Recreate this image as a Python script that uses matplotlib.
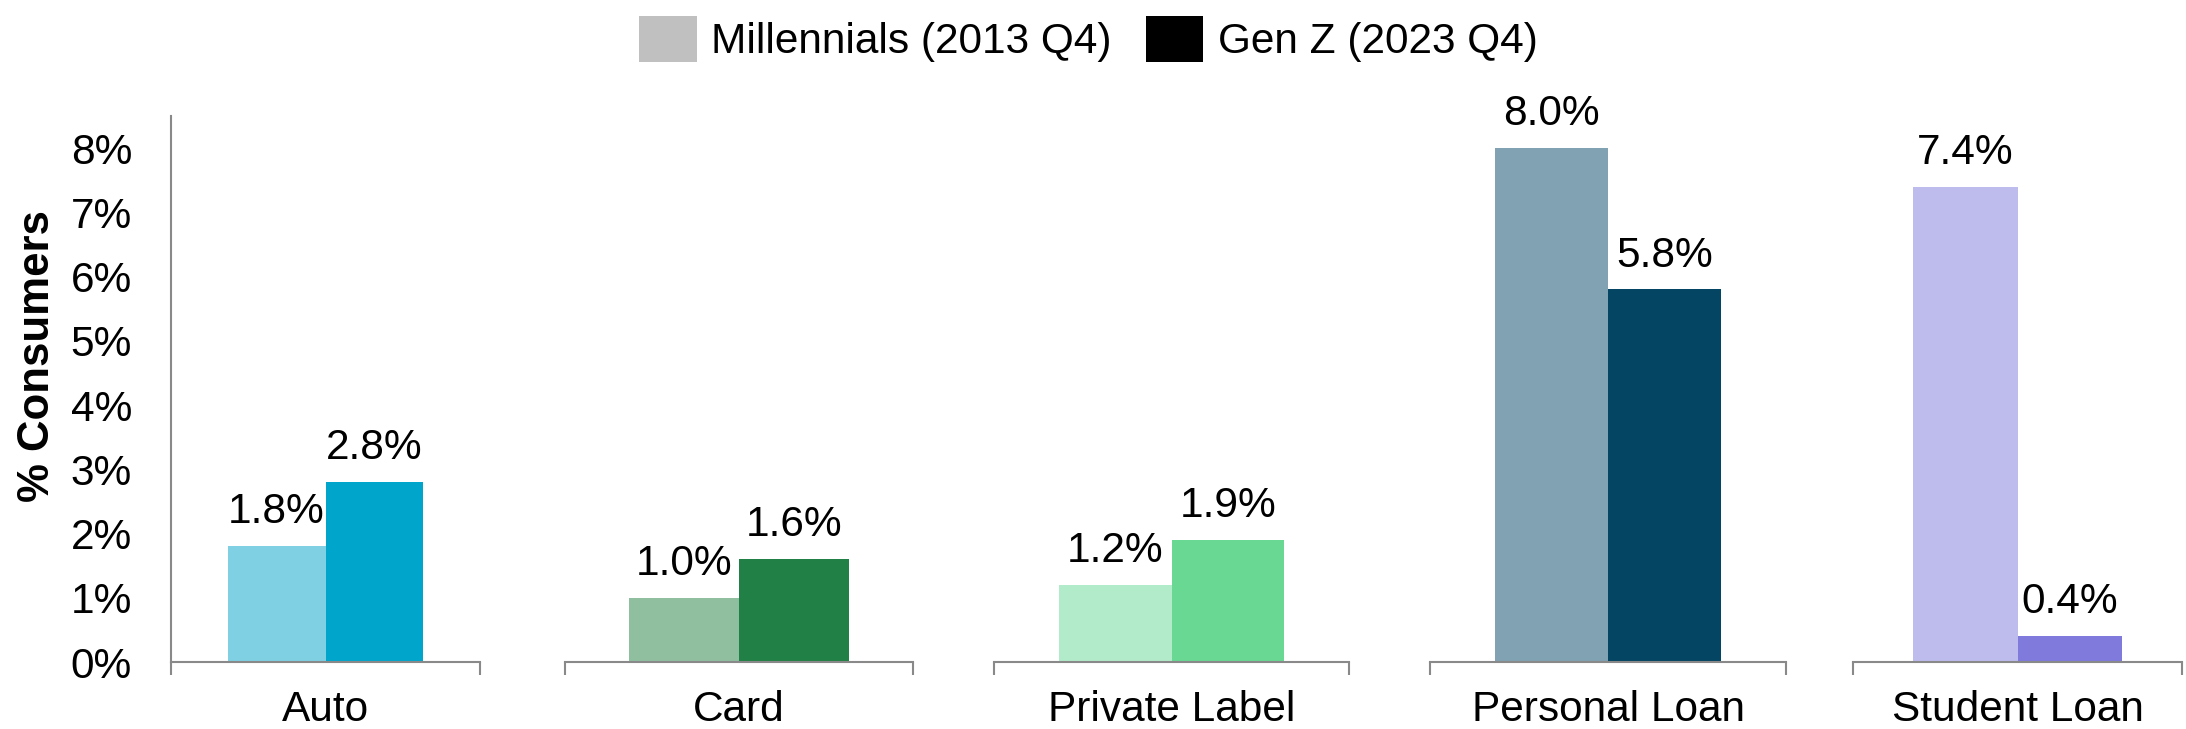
import matplotlib
matplotlib.use("Agg")
import matplotlib.pyplot as plt
from matplotlib.patches import Patch
from matplotlib.ticker import FuncFormatter

plt.rcParams['font.family'] = ['Liberation Sans', 'DejaVu Sans']

categories = ["Auto", "Card", "Private Label", "Personal Loan", "Student Loan"]
series_names = ["Millennials (2013 Q4)", "Gen Z (2023 Q4)"]
millennials = [1.8, 1.0, 1.2, 8.0, 7.4]
gen_z = [2.8, 1.6, 1.9, 5.8, 0.4]
yticks = [0, 1, 2, 3, 4, 5, 6, 7, 8]

light_colors = ["#7fd0e3", "#8fbf9f", "#b2ebc9", "#80a2b2", "#bdbcec"]
dark_colors = ["#00a5cb", "#208045", "#68d893", "#034563", "#7f7adc"]

W, H = 2186, 729
AXIS_GREY = "#898989"
FS = 30.5

fig = plt.figure(figsize=(W / 100, H / 100), dpi=100)

# each category gets its own panel, laid out in pixels
lefts = [171, 565, 994, 1430, 1853]
rights = [480, 913, 1349, 1786, 2182]
y_bottom, y_top = 662, 116

bar_w = 0.634
axes = []
for i, cat in enumerate(categories):
    rect = [lefts[i] / W, (H - y_bottom) / H,
            (rights[i] - lefts[i]) / W, (y_bottom - y_top) / H]
    ax = fig.add_axes(rect, sharey=axes[0] if axes else None)
    axes.append(ax)

    vals = [millennials[i], gen_z[i]]
    xs = [-bar_w / 2, bar_w / 2]
    cols = [light_colors[i], dark_colors[i]]
    ax.bar(xs, vals, width=bar_w, color=cols, zorder=2)
    for x, v in zip(xs, vals):
        ax.annotate(f"{v:.1f}%", (x, v), xytext=(0, 10), textcoords="offset points",
                    ha="center", va="bottom", fontsize=FS, annotation_clip=False)

    ax.set_xlim(-1, 1)
    ax.set_ylim(0, 8.5)
    ax.set_xticks([0])
    ax.set_xticklabels([cat], fontsize=FS)
    ax.set_xticks([-1, 1], minor=True)
    ax.tick_params(axis="x", which="major", length=0, pad=20)
    ax.tick_params(axis="x", which="minor", length=9.5, width=1.5,
                   color=AXIS_GREY, direction="out")

    for side in ["top", "right"]:
        ax.spines[side].set_visible(False)
    ax.spines["bottom"].set_color(AXIS_GREY)
    ax.spines["bottom"].set_linewidth(1.5)
    ax.spines["bottom"].set_zorder(3)

    if i == 0:
        ax.spines["left"].set_color(AXIS_GREY)
        ax.spines["left"].set_linewidth(1.5)
        ax.set_yticks(yticks)
        ax.yaxis.set_major_formatter(FuncFormatter(lambda v, p: f"{v:.0f}%"))
        ax.tick_params(axis="y", length=0, pad=28, labelsize=FS)
        ax.set_ylabel("% Consumers", fontsize=31.5, fontweight="bold")
        ax.yaxis.set_label_coords(-0.365, 0.56)
    else:
        ax.spines["left"].set_visible(False)
        ax.tick_params(axis="y", left=False, labelleft=False)

handles = [Patch(facecolor="#c0c0c0"), Patch(facecolor="#000000")]
fig.legend(handles, series_names, loc="center", bbox_to_anchor=(0.498, 1 - 39 / H),
           ncol=2, frameon=False, fontsize=FS, handlelength=1.35, handleheight=1.28,
           handletextpad=0.35, columnspacing=0.8)

fig.savefig("out.png", dpi=100)
